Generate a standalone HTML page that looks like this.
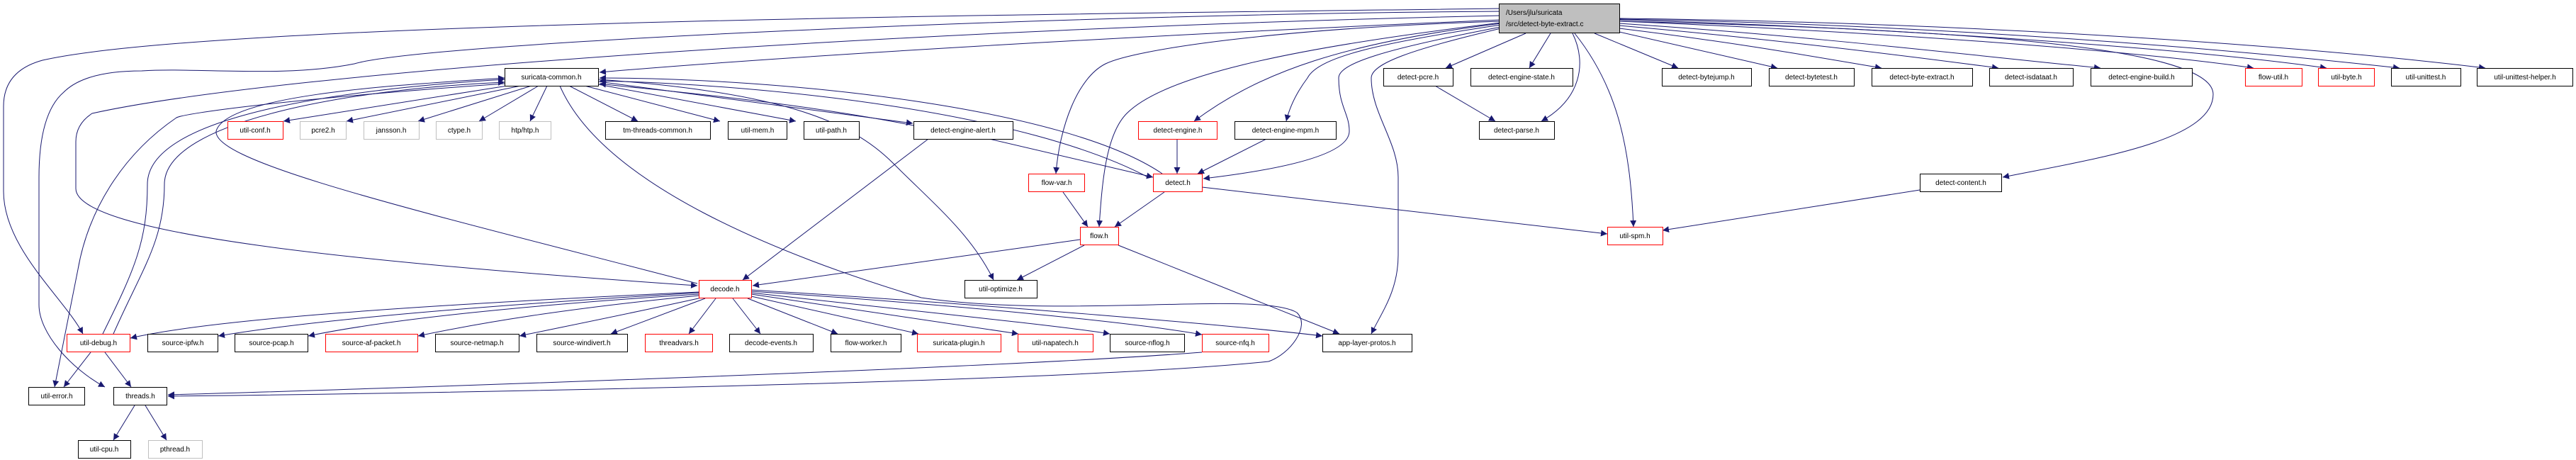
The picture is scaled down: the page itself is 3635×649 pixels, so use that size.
<!DOCTYPE html>
<html><head><meta charset="utf-8"><style>
html,body{margin:0;padding:0;background:#fff;}
svg{display:block;}
text{font-family:"Liberation Sans",sans-serif;font-size:10px;fill:#000;}
.e{fill:none;stroke:#191970;stroke-width:1;}
.n{fill:#fff;stroke:#000;stroke-width:1;}
.r{fill:#fff;stroke:#ff0000;stroke-width:1;}
.g{fill:#fff;stroke:#bfbfbf;stroke-width:1;}
</style></head><body>
<svg width="3635" height="649" viewBox="0 0 3635 649" xmlns="http://www.w3.org/2000/svg">
<defs><marker id="a" viewBox="0 0 10 10" refX="10" refY="5" markerWidth="9" markerHeight="9" markerUnits="userSpaceOnUse" orient="auto"><path d="M0,0 L10,5 L0,10 z" fill="#191970"/></marker></defs>
<g class="e" marker-end="url(#a)">
<!-- main edges -->
<path d="M2118,28 C1600,50 1100,80 846,102"/>
<path d="M2153,47 L2040,96"/>
<path d="M2188,47 L2158,96"/>
<path d="M2219,47 C2240,90 2230,140 2175,171"/>
<path d="M2222,47 C2280,120 2300,200 2305,320"/>
<path d="M2250,47 L2368,96"/>
<path d="M2285,45 L2508,96"/>
<path d="M2285,40 C2450,60 2560,80 2655,96"/>
<path d="M2285,36 C2500,55 2700,80 2820,96"/>
<path d="M2285,33 C2550,50 2800,80 2964,96"/>
<path d="M2285,30 C2650,45 3000,70 3180,96"/>
<path d="M2285,28 C2700,40 3100,70 3283,96"/>
<path d="M2285,27 C2750,35 3150,70 3386,96"/>
<path d="M2285,26 C2800,32 3250,65 3507,96"/>
<path d="M2285,30 C2700,40 3123,60 3123,133 C3123,200 2950,225 2826,250"/>
<path d="M2118,40 C1990,70 1935,90 1935,110 C1935,160 1973,200 1973,250 L1973,360 C1973,410 1950,440 1935,471"/>
<path d="M2118,38 C1950,70 1889,90 1889,110 C1889,150 1904,160 1904,185 C1904,220 1800,240 1698,252"/>
<path d="M2118,35 C1950,60 1860,80 1845,110 C1830,130 1820,150 1815,171"/>
<path d="M2118,33 C1900,60 1780,100 1685,171"/>
<path d="M2118,32 C1800,70 1640,110 1590,160 C1560,190 1555,260 1551,320"/>
<path d="M2118,30 C1800,40 1600,70 1560,90 C1520,110 1495,180 1490,245"/>
<path d="M2118,22 C1300,40 400,100 130,160 Q107,175 107,200 L107,266 C107,330 500,370 984,403"/>
<path d="M2118,12 C1500,20 300,30 60,85 Q5,100 5,150 L5,270 C5,350 90,420 117,471"/>
<path d="M2118,16 C1500,20 600,60 500,90 C400,110 280,95 200,100 Q120,100 90,130 Q55,160 55,250 L55,430 C55,470 100,520 148,546"/>
<!-- suricata-common -->
<path d="M716,121 L400,171"/>
<path d="M735,121 L489,171"/>
<path d="M750,121 L590,171"/>
<path d="M760,121 L676,171"/>
<path d="M772,121 L748,171"/>
<path d="M803,121 L900,171"/>
<path d="M825,121 L1016,171"/>
<path d="M844,119 L1123,171"/>
<path d="M844,115 L1288,174"/>
<path d="M844,112 C1100,130 1200,170 1260,230 C1320,290 1370,330 1402,395"/>
<path d="M712,118 C400,140 260,160 249,166 C170,220 124,300 110,380 L77,546"/>
<path d="M790,121 C850,260 1100,360 1300,420 C1500,450 1780,410 1830,441 C1850,460 1820,500 1790,510 C1500,540 600,555 237,559"/>
<!-- back edges to sc -->
<path d="M145,471 C190,380 208,340 208,260 C208,160 500,125 712,112"/>
<path d="M160,471 C200,380 232,340 232,260 C232,170 500,125 712,116"/>
<path d="M984,400 C600,300 300,230 305,185 C320,130 600,118 712,110"/>
<path d="M1289,177 C1100,140 900,125 846,118"/>
<path d="M1640,245 C1500,150 1100,110 846,110"/>
<path d="M1620,250 C1450,160 1100,120 846,114"/>
<!-- others -->
<path d="M1310,196 L1048,395"/>
<path d="M1396,196 L1627,250"/>
<path d="M1661,196 L1661,245"/>
<path d="M1787,196 L1690,245"/>
<path d="M1500,271 L1535,320"/>
<path d="M1643,271 L1573,320"/>
<path d="M1696,264 L2268,330"/>
<path d="M2709,268 L2346,325"/>
<path d="M2025,121 L2110,171"/>
<path d="M1524,338 L1062,403"/>
<path d="M1530,346 L1435,395"/>
<path d="M1578,346 L1890,471"/>
<path d="M1696,497 C1400,520 500,550 237,557"/>
<path d="M128,497 L90,546"/>
<path d="M148,497 L185,546"/>
<path d="M190,572 L160,621"/>
<path d="M205,572 L235,621"/>
<!-- decode fan -->
<path d="M986,412 C600,430 300,450 184,477"/>
<path d="M986,413 C700,430 450,450 308,474"/>
<path d="M986,415 C750,430 550,450 435,474"/>
<path d="M986,417 C800,435 680,455 590,474"/>
<path d="M990,420 C900,440 800,460 733,474"/>
<path d="M995,421 L862,471"/>
<path d="M1010,421 L972,471"/>
<path d="M1034,421 L1073,471"/>
<path d="M1055,421 L1182,471"/>
<path d="M1060,418 L1296,471"/>
<path d="M1060,415 L1437,471"/>
<path d="M1060,413 C1300,440 1500,460 1566,471"/>
<path d="M1060,411 C1350,430 1600,455 1696,472"/>
<path d="M1060,409 C1400,430 1750,460 1866,474"/>
</g>
<!-- nodes -->
<g>
<rect x="2115.5" y="5.5" width="170" height="41" fill="#bfbfbf" stroke="#000"/>
<text x="2125" y="21">/Users/jlu/suricata</text>
<text x="2125" y="37">/src/detect-byte-extract.c</text>
</g>
<g text-anchor="middle">
<rect class="n" x="712.5" y="96.5" width="132" height="25"/><text x="778" y="112">suricata-common.h</text>
<rect class="r" x="321.5" y="171.5" width="78" height="25"/><text x="360" y="187">util-conf.h</text>
<rect class="g" x="423.5" y="171.5" width="65" height="25"/><text x="456" y="187">pcre2.h</text>
<rect class="g" x="513.5" y="171.5" width="78" height="25"/><text x="552" y="187">jansson.h</text>
<rect class="g" x="615.5" y="171.5" width="65" height="25"/><text x="648" y="187">ctype.h</text>
<rect class="g" x="704.5" y="171.5" width="73" height="25"/><text x="741" y="187">htp/htp.h</text>
<rect class="n" x="854.5" y="171.5" width="148" height="25"/><text x="928" y="187">tm-threads-common.h</text>
<rect class="n" x="1027.5" y="171.5" width="83" height="25"/><text x="1069" y="187">util-mem.h</text>
<rect class="n" x="1134.5" y="171.5" width="78" height="25"/><text x="1173" y="187">util-path.h</text>
<rect class="n" x="1289.5" y="171.5" width="140" height="25"/><text x="1359" y="187">detect-engine-alert.h</text>
<rect class="r" x="1606.5" y="171.5" width="111" height="25"/><text x="1662" y="187">detect-engine.h</text>
<rect class="n" x="1742.5" y="171.5" width="143" height="25"/><text x="1814" y="187">detect-engine-mpm.h</text>
<rect class="n" x="2087.5" y="171.5" width="106" height="25"/><text x="2140" y="187">detect-parse.h</text>
<rect class="n" x="1952.5" y="96.5" width="98" height="25"/><text x="2001" y="112">detect-pcre.h</text>
<rect class="n" x="2075.5" y="96.5" width="144" height="25"/><text x="2147" y="112">detect-engine-state.h</text>
<rect class="n" x="2345.5" y="96.5" width="126" height="25"/><text x="2408" y="112">detect-bytejump.h</text>
<rect class="n" x="2496.5" y="96.5" width="120" height="25"/><text x="2556" y="112">detect-bytetest.h</text>
<rect class="n" x="2641.5" y="96.5" width="142" height="25"/><text x="2712" y="112">detect-byte-extract.h</text>
<rect class="n" x="2807.5" y="96.5" width="118" height="25"/><text x="2866" y="112">detect-isdataat.h</text>
<rect class="n" x="2950.5" y="96.5" width="143" height="25"/><text x="3022" y="112">detect-engine-build.h</text>
<rect class="r" x="3168.5" y="96.5" width="80" height="25"/><text x="3208" y="112">flow-util.h</text>
<rect class="r" x="3271.5" y="96.5" width="79" height="25"/><text x="3311" y="112">util-byte.h</text>
<rect class="n" x="3374.5" y="96.5" width="98" height="25"/><text x="3423" y="112">util-unittest.h</text>
<rect class="n" x="3495.5" y="96.5" width="135" height="25"/><text x="3563" y="112">util-unittest-helper.h</text>
<rect class="r" x="1451.5" y="245.5" width="79" height="25"/><text x="1491" y="261">flow-var.h</text>
<rect class="r" x="1627.5" y="245.5" width="69" height="25"/><text x="1662" y="261">detect.h</text>
<rect class="n" x="2709.5" y="245.5" width="115" height="25"/><text x="2767" y="261">detect-content.h</text>
<rect class="r" x="1524.5" y="320.5" width="54" height="25"/><text x="1551" y="336">flow.h</text>
<rect class="r" x="2268.5" y="320.5" width="78" height="25"/><text x="2307" y="336">util-spm.h</text>
<rect class="r" x="986.5" y="395.5" width="74" height="25"/><text x="1023" y="411">decode.h</text>
<rect class="n" x="1361.5" y="395.5" width="102" height="25"/><text x="1412" y="411">util-optimize.h</text>
<rect class="r" x="94.5" y="471.5" width="89" height="25"/><text x="139" y="487">util-debug.h</text>
<rect class="n" x="208.5" y="471.5" width="99" height="25"/><text x="258" y="487">source-ipfw.h</text>
<rect class="n" x="331.5" y="471.5" width="103" height="25"/><text x="383" y="487">source-pcap.h</text>
<rect class="r" x="459.5" y="471.5" width="130" height="25"/><text x="524" y="487">source-af-packet.h</text>
<rect class="n" x="614.5" y="471.5" width="118" height="25"/><text x="673" y="487">source-netmap.h</text>
<rect class="n" x="757.5" y="471.5" width="128" height="25"/><text x="821" y="487">source-windivert.h</text>
<rect class="r" x="910.5" y="471.5" width="95" height="25"/><text x="958" y="487">threadvars.h</text>
<rect class="n" x="1029.5" y="471.5" width="118" height="25"/><text x="1088" y="487">decode-events.h</text>
<rect class="n" x="1172.5" y="471.5" width="99" height="25"/><text x="1222" y="487">flow-worker.h</text>
<rect class="r" x="1294.5" y="471.5" width="118" height="25"/><text x="1353" y="487">suricata-plugin.h</text>
<rect class="r" x="1436.5" y="471.5" width="106" height="25"/><text x="1489" y="487">util-napatech.h</text>
<rect class="n" x="1566.5" y="471.5" width="105" height="25"/><text x="1619" y="487">source-nflog.h</text>
<rect class="r" x="1696.5" y="471.5" width="94" height="25"/><text x="1743" y="487">source-nfq.h</text>
<rect class="n" x="1866.5" y="471.5" width="126" height="25"/><text x="1929" y="487">app-layer-protos.h</text>
<rect class="n" x="40.5" y="546.5" width="79" height="25"/><text x="80" y="562">util-error.h</text>
<rect class="n" x="160.5" y="546.5" width="75" height="25"/><text x="198" y="562">threads.h</text>
<rect class="n" x="110.5" y="621.5" width="74" height="25"/><text x="147" y="637">util-cpu.h</text>
<rect class="g" x="209.5" y="621.5" width="76" height="25"/><text x="247" y="637">pthread.h</text>
</g>
</svg>
</body></html>
